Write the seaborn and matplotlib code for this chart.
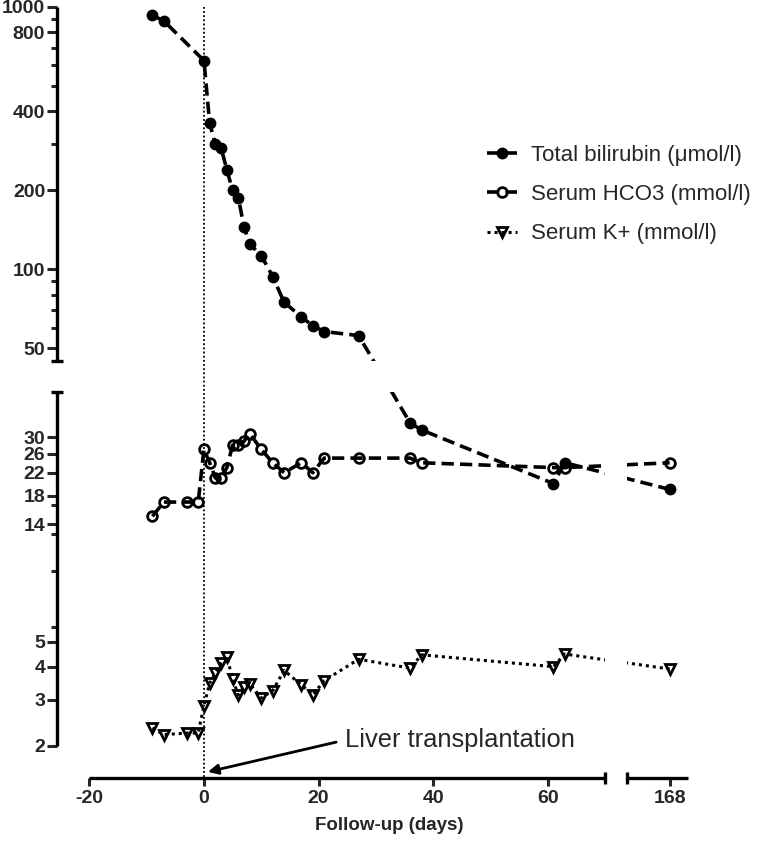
import numpy as np
import matplotlib
matplotlib.use('Agg')
import matplotlib.pyplot as plt
from matplotlib.ticker import NullLocator
import seaborn as sns

# follow-up days (0 = liver transplantation) and lab values
bili_days = [-9, -7, 0, 1, 2, 3, 4, 5, 6, 7, 8, 10, 12, 14, 17, 19, 21, 27, 36, 38, 61, 63, 168]
bili_vals = [930, 885, 625, 360, 300, 290, 240, 200, 188, 145, 125, 113, 94, 75, 66, 61, 58, 56,
             34, 32, 20, 24, 19]

lab_days = [-9, -7, -3, -1, 0, 1, 2, 3, 4, 5, 6, 7, 8, 10, 12, 14, 17, 19, 21, 27, 36, 38, 61, 63, 168]
hco3_vals = [15, 17, 17, 17, 27, 24, 21, 21, 23, 28, 28, 29, 31, 27, 24, 22, 24, 22, 25, 25,
             25, 24, 23, 23, 24]
k_vals = [2.34, 2.21, 2.24, 2.24, 2.85, 3.47, 3.79, 4.14, 4.38, 3.60, 3.13, 3.37, 3.45, 3.05,
          3.25, 3.88, 3.42, 3.13, 3.55, 4.28, 3.96, 4.45, 4.01, 4.48, 3.93]

y_major = [2, 3, 4, 5, 14, 18, 22, 26, 30, 50, 100, 200, 400, 800, 1000]
y_minor = [5.7, 9.3, 12.9, 16.5, 60, 70, 80, 90, 300, 500, 600, 700, 900]
x_major = [-20, 0, 20, 40, 60, 168]

# axis breaks (GraphPad style): gap in log-y above ~44.6, gap in x between day 70 and 160.5
Y_CUT, Y_GAP = 44.6, 0.1166
X_CUT, X_RESUME, X_GAP = 70, 160.5, 3.8


def fwd_y(v):
    v = np.asarray(v, dtype=float)
    p = np.log10(np.clip(v, 1e-9, None))
    return np.where(v > Y_CUT, p + Y_GAP, p)


def inv_y(p):
    p = np.asarray(p, dtype=float)
    lc = np.log10(Y_CUT)
    with np.errstate(over='ignore'):
        return np.where(p <= lc, 10 ** p, np.where(p >= lc + Y_GAP, 10 ** (p - Y_GAP), Y_CUT))


def fwd_x(x):
    x = np.asarray(x, dtype=float)
    mid = X_CUT + (x - X_CUT) * X_GAP / (X_RESUME - X_CUT)
    return np.where(x <= X_CUT, x, np.where(x >= X_RESUME, x - (X_RESUME - X_CUT) + X_GAP, mid))


def inv_x(p):
    p = np.asarray(p, dtype=float)
    mid = X_CUT + (p - X_CUT) * (X_RESUME - X_CUT) / X_GAP
    return np.where(p <= X_CUT, p, np.where(p >= X_CUT + X_GAP, p + (X_RESUME - X_CUT) - X_GAP, mid))


sns.set_style('ticks')
plt.rcParams['font.family'] = ['Liberation Sans', 'DejaVu Sans']

fig = plt.figure(figsize=(7.57, 8.42), dpi=100)
ax = fig.add_axes([57 / 757, 96 / 842, 631 / 757, 739 / 842])

sns.lineplot(x=bili_days, y=bili_vals, ax=ax, errorbar=None, color='black',
             linewidth=2.6, linestyle=(0, (3.4, 1.7)), marker='o', markersize=7.5,
             markerfacecolor='black', markeredgecolor='black', markeredgewidth=1,
             label='Total bilirubin (μmol/l)')
sns.lineplot(x=lab_days, y=hco3_vals, ax=ax, errorbar=None, color='black',
             linewidth=2.6, linestyle=(0, (3.4, 1.7)), marker='o', markersize=7,
             markerfacecolor='none', markeredgecolor='black', markeredgewidth=2,
             label='Serum HCO3 (mmol/l)')
sns.lineplot(x=lab_days, y=k_vals, ax=ax, errorbar=None, color='black',
             linewidth=2.2, linestyle=(0, (1, 1.3)), marker='v', markersize=7.5,
             markerfacecolor='none', markeredgecolor='black', markeredgewidth=2,
             label='Serum K+ (mmol/l)')

ax.set_xscale('function', functions=(fwd_x, inv_x))
ax.set_yscale('function', functions=(fwd_y, inv_y))

# blank the lines where they cross the breaks
ax.axhspan(Y_CUT, Y_CUT * 1.0001, color='white', lw=0, zorder=3)
ax.axvspan(X_CUT, X_RESUME, color='white', lw=0, zorder=3)

# transplantation marker
ax.axvline(0, ymin=-0.042, ymax=1, color='black', lw=1.3, ls=(0, (1, 1.3)),
           clip_on=False, zorder=4)
ax.annotate('Liver transplantation', xy=(0.7, -0.035), xycoords=('data', 'axes fraction'),
            xytext=(24.6, 0.008), textcoords=('data', 'axes fraction'),
            fontsize=18.4, ha='left', va='center', annotation_clip=False,
            arrowprops=dict(arrowstyle='-|>', color='black', lw=2, mutation_scale=15,
                            shrinkA=4, shrinkB=0, relpos=(0, 0.5)))

# broken spines drawn by hand
for s in ['top', 'right', 'left', 'bottom']:
    ax.spines[s].set_visible(False)
ax.spines['bottom'].set_position(('outward', 23))
ytr = ax.get_yaxis_transform()
xtr = ax.spines['bottom'].get_spine_transform()
line_kw = dict(color='black', lw=2.4, clip_on=False, zorder=6, solid_capstyle='butt')
cap_kw = dict(color='black', ls='none', ms=8, mew=2.4, clip_on=False, zorder=6)
ax.plot([0, 0], [2, Y_CUT], transform=ytr, **line_kw)
ax.plot([0, 0], [Y_CUT * 1.0001, 1000], transform=ytr, **line_kw)
ax.plot([0, 0], [Y_CUT, Y_CUT * 1.0001], transform=ytr, marker='_', **cap_kw)
ax.plot([-20, X_CUT], [0, 0], transform=xtr, **line_kw)
ax.plot([X_RESUME, 171.2], [0, 0], transform=xtr, **line_kw)
ax.plot([X_CUT, X_RESUME], [0, 0], transform=xtr, marker='|', **cap_kw)

ax.set_xlim(-25.65, 171.2)
ax.set_ylim(2, 1000)

ax.set_yticks(y_major, labels=[str(v) for v in y_major])
ax.set_yticks(y_minor, minor=True)
ax.set_xticks(x_major, labels=[str(v) for v in x_major])
ax.xaxis.set_minor_locator(NullLocator())
ax.tick_params(axis='y', which='major', length=7, width=2.2, pad=1.5, labelsize=14)
ax.tick_params(axis='y', which='minor', length=4, width=2.2)
ax.tick_params(axis='x', which='major', length=6, width=2.2, pad=3, labelsize=14)
for lab in ax.get_xticklabels() + ax.get_yticklabels():
    lab.set_fontweight('bold')

ax.set_xlabel('Follow-up (days)', fontsize=13.5, fontweight='bold')
ax.xaxis.set_label_coords(0.526, -0.096)
ax.set_ylabel('')

ax.legend(loc='upper left', bbox_to_anchor=(487 / 757, 1 - 145 / 842),
          bbox_transform=fig.transFigure, frameon=False, fontsize=16,
          handlelength=1.35, handletextpad=0.62, labelspacing=0.82,
          borderpad=0, borderaxespad=0)

fig.savefig('out.png', dpi=100)
